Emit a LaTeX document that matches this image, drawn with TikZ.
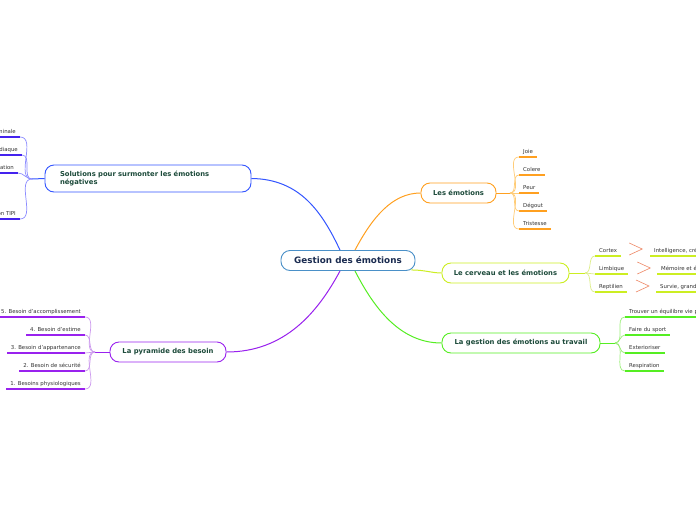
\documentclass[tikz,border=0pt]{standalone}
\usepackage{fontspec}
\setmainfont{DejaVu Sans}
\usepackage{tikz}
\usetikzlibrary{calc}
\definecolor{navy}{HTML}{1A2B50}
\definecolor{ink}{HTML}{1C4A3A}
\definecolor{leafink}{HTML}{333333}
\definecolor{central}{HTML}{4A90C8}
\definecolor{solblue}{HTML}{3355FF}
\definecolor{solline}{HTML}{4422EE}
\definecolor{solcurve}{HTML}{8C8CFF}
\definecolor{orng}{HTML}{FFA020}
\definecolor{orngcurve}{HTML}{FFCC77}
\definecolor{yel}{HTML}{CCEE22}
\definecolor{yelcurve}{HTML}{DDEE88}
\definecolor{grn}{HTML}{55EE22}
\definecolor{grncurve}{HTML}{99EE77}
\definecolor{purp}{HTML}{9922EE}
\definecolor{purpcurve}{HTML}{CC99EE}
\definecolor{chevcol}{HTML}{EE8866}

\begin{document}
\begin{tikzpicture}[
  x=1pt,y=-1pt,
  topic/.style={draw,line width=0.9pt,rounded corners=9pt,fill=white,minimum height=20pt,font=\fontsize{6.8}{8.6}\selectfont\bfseries,text=ink,inner xsep=0pt},
  leaf/.style={inner xsep=4pt,inner ysep=2pt,text height=4pt,text depth=1pt,font=\fontsize{5.4}{6.5}\selectfont,text=leafink},
  uline/.style={line width=1.6pt},
  twig/.style={line width=0.7pt},
  chev/.style={draw=chevcol,line width=0.6pt}
]
\clip (0,0) rectangle (696,520);
\fill[white] (0,0) rectangle (696,520);

% central topic
\node[topic,draw=central,text=navy,minimum width=134pt,font=\fontsize{8.8}{10}\selectfont\bfseries] (root) at (348,260.5) {Gestion des émotions};

% main topics
\node[topic,draw=solblue,minimum width=206pt,minimum height=27pt,text width=176pt,align=left,inner xsep=15pt] (sol) at (148,178.5) {Solutions pour surmonter les émotions\\négatives};
\node[topic,draw=orng,minimum width=75pt] (emo) at (458.5,193) {Les émotions};
\node[topic,draw=yel,minimum width=127pt] (cer) at (505.5,273) {Le cerveau et les émotions};
\node[topic,draw=grn,minimum width=158pt] (trav) at (521,343) {La gestion des émotions au travail};
\node[topic,draw=purp,minimum width=116pt] (pyr) at (168,352) {La pyramide des besoin};

% branches from the centre
\draw[solblue,line width=1pt] ($(root.north)+(-8,0)$) .. controls (322,212) and (300,179) .. (sol.east);
\draw[orng,line width=1pt] ($(root.north)+(7,0)$) .. controls (372,218) and (392,193) .. (emo.west);
\draw[yel,line width=1pt] ($(root.south east)+(-4,-1)$) .. controls (425,270) and (432,273) .. (cer.west);
\draw[grn,line width=1pt] ($(root.south)+(7,0)$) .. controls (374,308) and (400,343) .. (trav.west);
\draw[purp,line width=1pt] ($(root.south)+(-8,0)$) .. controls (318,312) and (285,352) .. (pyr.east);

% branch points
\coordinate (bsol) at (32,179);
\coordinate (bemo) at (510,193);
\coordinate (bcer) at (585,273);
\coordinate (btrav) at (615,343);
\coordinate (bpyr) at (95,352);
\draw[solblue,line width=1pt] (sol.west) -- (bsol);
\draw[orng,line width=1pt] (emo.east) -- (bemo);
\draw[yel,line width=1pt] (cer.east) -- (bcer);
\draw[grn,line width=1pt] (trav.east) -- (btrav);
\draw[purp,line width=1pt] (pyr.west) -- (bpyr);

% Les émotions
\node[leaf,anchor=south west] (e1) at (519,157) {Joie};
\node[leaf,anchor=south west] (e2) at (519,175) {Colere};
\node[leaf,anchor=south west] (e3) at (519,193) {Peur};
\node[leaf,anchor=south west] (e4) at (519,211) {Dégout};
\node[leaf,anchor=south west] (e5) at (519,229) {Tristesse};
\foreach \n in {e1,e2,e3,e4,e5}{
  \draw[twig,orngcurve] (bemo) to[out=0,in=180] (\n.south west);
  \draw[uline,orng] (\n.south west) -- (\n.south east);
}

% Le cerveau et les émotions
\node[leaf,anchor=south west] (c1) at (595,256) {Cortex};
\node[leaf,anchor=south west] (c2) at (595,274) {Limbique};
\node[leaf,anchor=south west] (c3) at (595,292) {Reptilien};
\foreach \n in {c1,c2,c3}{
  \draw[twig,yelcurve] (bcer) to[out=0,in=180] (\n.south west);
  \draw[uline,yel] (\n.south west) -- (\n.south east);
}
\node[leaf,anchor=south west] (d1) at (650,256) {Intelligence, créativité};
\node[leaf,anchor=south west] (d2) at (657,274) {Mémoire et émotions};
\node[leaf,anchor=south west] (d3) at (656,292) {Survie, grandes fonctions};
\foreach \n in {d1,d2,d3}{
  \draw[uline,yel] (\n.south west) -- ++(80,0);
}
\draw[chev] ($(c1.south east)+(8,-13)$) -- ++(13,6) -- ++(-13,6);
\draw[chev] ($(c2.south east)+(9,-12)$) -- ++(13,6) -- ++(-13,6);
\draw[chev] ($(c3.south east)+(9,-12)$) -- ++(13,6) -- ++(-13,6);

% La gestion des émotions au travail
\node[leaf,anchor=south west] (t1) at (625,317) {Trouver un équilibre vie pro / perso};
\node[leaf,anchor=south west] (t2) at (625,335) {Faire du sport};
\node[leaf,anchor=south west] (t3) at (625,353) {Exterioriser};
\node[leaf,anchor=south west] (t4) at (625,371) {Respiration};
\foreach \n in {t1,t2,t3,t4}{
  \draw[twig,grncurve] (btrav) to[out=0,in=180] (\n.south west);
  \draw[uline,grn] (\n.south west) -- (\n.south east);
}

% La pyramide des besoin
\node[leaf,anchor=south east] (p5) at (85,317) {5. Besoin d'accomplissement};
\node[leaf,anchor=south east] (p4) at (85,335) {4. Besoin d'estime};
\node[leaf,anchor=south east] (p3) at (85,353) {3. Besoin d'appartenance};
\node[leaf,anchor=south east] (p2) at (85,371) {2. Besoin de sécurité};
\node[leaf,anchor=south east] (p1) at (85,389) {1. Besoins physiologiques};
\foreach \n in {p5,p4,p3,p2,p1}{
  \draw[twig,purpcurve] (bpyr) to[out=180,in=0] (\n.south east);
  \draw[uline,purp] (\n.south east) -- (\n.south west);
}

% Solutions pour surmonter les émotions négatives
\node[leaf,anchor=south east] (s1) at (20,137) {Respiration abdominale};
\node[leaf,anchor=south east] (s2) at (22,155) {Cohérence cardiaque};
\node[leaf,anchor=south east] (s3) at (18,173) {Méditation};
\node[leaf,anchor=south east] (s4) at (20,219) {Session TIPI};
\foreach \n in {s1,s2,s3,s4}{
  \draw[twig,solcurve] (bsol) to[out=180,in=0] (\n.south east);
  \draw[uline,solline] (\n.south east) -- (\n.south west);
}
\end{tikzpicture}
\end{document}
